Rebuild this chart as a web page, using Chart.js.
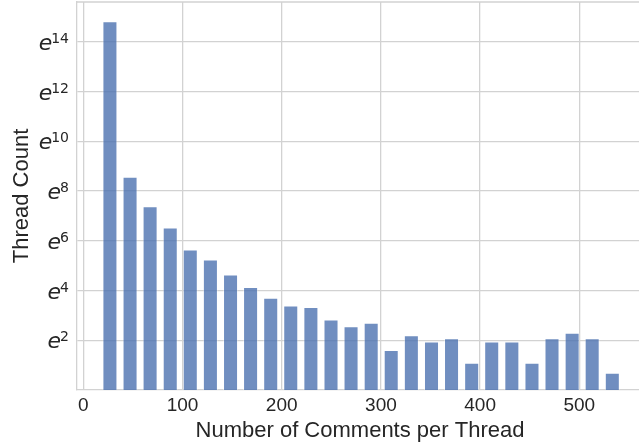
<!DOCTYPE html>
<html>
<head>
<meta charset="utf-8">
<script src="https://cdn.jsdelivr.net/npm/chart.js@4.4.1/dist/chart.umd.min.js"></script>
<style>
  html, body { margin: 0; padding: 0; background: #fff; }
  #wrap { width: 639px; height: 442px; }
</style>
</head>
<body>
<div id="wrap"><canvas id="hist"></canvas></div>
<script>
// bin centres (comments per thread) and thread counts
const binCenters = [26.8, 47.1, 67.3, 87.6, 107.8, 128.1, 148.4, 168.6, 188.9, 209.1,
                    229.4, 249.7, 269.9, 290.2, 310.4, 330.7, 351.0, 371.2, 391.5, 411.7,
                    432.0, 452.3, 472.5, 492.8, 513.0, 533.3];
const threadCounts = [2760000, 5270, 1620, 685, 284, 190, 104, 63, 41, 30,
                      28, 17, 13, 15, 5, 9, 7, 8, 3, 7,
                      7, 3, 8, 10, 8, 2];
const xTicks = [0, 100, 200, 300, 400, 500];
const yTickExps = [2, 4, 6, 8, 10, 12, 14];

const GRID = '#d2d2d2';
const TEXT = '#262626';

// y tick labels drawn as e + raised exponent, plus the axis titles
const labelsPlugin = {
    id: 'labels',
    afterDraw(chart) {
        const { ctx, chartArea, scales } = chart;
        ctx.save();
        ctx.fillStyle = TEXT;

        // top frame line
        ctx.strokeStyle = GRID;
        ctx.lineWidth = 1.3;
        ctx.beginPath();
        ctx.moveTo(chartArea.left, chartArea.top);
        ctx.lineTo(chartArea.right, chartArea.top);
        ctx.stroke();

        const rightEdge = chartArea.left - 8;
        yTickExps.forEach(k => {
            const y = scales.y.getPixelForValue(Math.exp(k));
            const exp = String(k);
            ctx.font = '14px "DejaVu Sans"';
            const wExp = ctx.measureText(exp).width;
            ctx.textAlign = 'left';
            ctx.textBaseline = 'alphabetic';
            ctx.fillText(exp, rightEdge - wExp, y + 1);
            ctx.font = 'italic 22px "DejaVu Sans"';
            const wE = ctx.measureText('e').width;
            ctx.fillText('e', rightEdge - wExp - wE + 1, y + 8);
        });

        ctx.font = '22px "Liberation Sans"';
        ctx.textAlign = 'center';
        ctx.textBaseline = 'alphabetic';
        ctx.fillText('Number of Comments per Thread', (chartArea.left + chartArea.right) / 2 + 2, 437);

        ctx.translate(28, (chartArea.top + chartArea.bottom) / 2);
        ctx.rotate(-Math.PI / 2);
        ctx.fillText('Thread Count', 0, 0);
        ctx.restore();
    }
};

new Chart(document.getElementById('hist'), {
    type: 'bar',
    data: {
        datasets: [{
            data: binCenters.map((x, i) => ({ x: x, y: threadCounts[i] })),
            backgroundColor: 'rgba(76, 114, 176, 0.8)',
            borderColor: 'rgba(255, 255, 255, 0.35)',
            borderWidth: 1,
            barPercentage: 0.75,
            categoryPercentage: 1.0
        }]
    },
    options: {
        responsive: true,
        maintainAspectRatio: false,
        animation: false,
        layout: { padding: { top: 2, right: 0, left: 0, bottom: 0 } },
        plugins: { legend: { display: false }, tooltip: { enabled: false } },
        scales: {
            x: {
                type: 'linear',
                min: -6.4,
                max: 560.2,
                offset: false,
                grid: { color: GRID, lineWidth: 1.3, drawTicks: false, offset: false },
                border: { color: GRID, width: 1.3 },
                afterBuildTicks: scale => { scale.ticks = xTicks.map(v => ({ value: v })); },
                afterFit: scale => { scale.height = 52; },
                ticks: {
                    padding: 4,
                    color: TEXT,
                    font: { family: 'Liberation Sans', size: 19 }
                }
            },
            y: {
                type: 'logarithmic',
                min: 1,
                max: Math.exp(15.6),
                grid: { color: GRID, lineWidth: 1.3, drawTicks: false },
                border: { color: GRID, width: 1.3 },
                afterBuildTicks: scale => { scale.ticks = yTickExps.map(k => ({ value: Math.exp(k) })); },
                afterFit: scale => { scale.width = 77; },
                ticks: { display: false }
            }
        }
    },
    plugins: [labelsPlugin]
});
</script>
</body>
</html>
